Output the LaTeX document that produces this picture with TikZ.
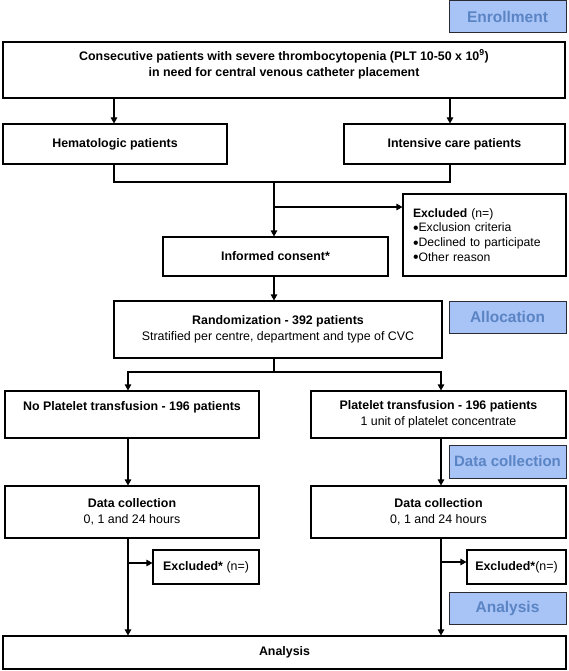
\documentclass[tikz,border=0pt]{standalone}
\usepackage{fontspec}
\setmainfont{Liberation Sans}
\usetikzlibrary{arrows.meta}
\definecolor{lblfill}{HTML}{A8C3F6}
\definecolor{lbltext}{HTML}{5A84C4}
\definecolor{lbldraw}{HTML}{2A2A35}
\newcommand{\bul}{\smash{\raisebox{-1.4pt}{\scalebox{1.3}{\textbullet}}}}
\begin{document}
\begin{tikzpicture}[x=1pt,y=-1pt,
  every path/.style={line width=1.1pt},
  box/.style={draw=black,line width=1.1pt,fill=white,inner sep=0pt,align=center,
     font=\fontsize{12.4}{16.5}\selectfont},
  lbl/.style={draw=lbldraw,line width=1pt,fill=lblfill,inner sep=0pt,
     text=lbltext,font=\fontsize{15.5}{18}\selectfont\bfseries,
     minimum width=117pt,minimum height=32pt},
  arr/.style={-{Triangle[length=6pt,width=6.5pt]}}]
\useasboundingbox (0,0) rectangle (568,671);

% phase labels
\node[lbl] (enr) at (507.5,17) {Enrollment};
\node[lbl] (alloc) at (507.5,317) {Allocation};
\node[lbl,minimum height=33pt,font=\fontsize{15}{18}\selectfont\bfseries] (dclab) at (507.5,461.5) {Data collection};
\node[lbl] (anlab) at (507.5,608) {Analysis};

% boxes
\node[box,minimum width=562pt,minimum height=56pt] (top) at (284,70)
  {\textbf{Consecutive patients with severe thrombocytopenia (PLT 10-50 x 10\textsuperscript{9})}\\
   \textbf{in need for central venous catheter placement}\\[-3pt]\mbox{}};
\node[box,minimum width=224pt,minimum height=40pt] (hem) at (115,144) {\textbf{Hematologic patients}};
\node[box,minimum width=221pt,minimum height=40pt] (icu) at (454.5,144) {\textbf{Intensive care patients}};
\node[box,minimum width=163pt,minimum height=82pt,align=left,text width=143pt,inner xsep=10pt,
   font=\fontsize{12.2}{14.8}\selectfont] (excl) at (484.5,235)
  {\textbf{Excluded} (n=)\\ \bul Exclusion criteria\\ \bul Declined to participate\\ \bul Other reason};
\node[box,minimum width=225pt,minimum height=39pt] (ic) at (275.5,256.5) {\textbf{Informed consent*}};
\node[box,minimum width=328pt,minimum height=57pt] (rand) at (278,329.5)
  {\textbf{Randomization - 392 patients}\\ Stratified per centre, department and type of CVC};
\node[box,minimum width=254pt,minimum height=47pt] (nop) at (132,414.5)
  {\textbf{No Platelet transfusion - 196 patients}\\ \mbox{}};
\node[box,minimum width=255pt,minimum height=47pt] (plt) at (438.5,414.5)
  {\textbf{Platelet transfusion - 196 patients}\\ 1 unit of platelet concentrate};
\node[box,minimum width=254pt,minimum height=52pt] (dcl) at (132,512)
  {\textbf{Data collection}\\ 0, 1 and 24 hours};
\node[box,minimum width=255pt,minimum height=52pt] (dcr) at (438.5,512)
  {\textbf{Data collection}\\ 0, 1 and 24 hours};
\node[box,minimum width=106pt,minimum height=34pt] (exl) at (206,567) {\textbf{Excluded*} (n=)};
\node[box,minimum width=99pt,minimum height=34pt] (exr) at (516.5,567) {\textbf{Excluded*}(n=)};
\node[box,minimum width=563pt,minimum height=33pt] (ana) at (284.5,652.5) {\textbf{Analysis}};

% helper coordinates
\coordinate (xA) at (114,0);
\coordinate (xB) at (450,0);
\coordinate (mrg) at (274,182);
\coordinate (brA) at (274,207);
\coordinate (sp) at (274,372);
\coordinate (xl) at (128,0);
\coordinate (xr) at (441,0);
\coordinate (jl) at (128,563);
\coordinate (jr) at (441,562);

% connectors
\draw[arr] (top.south -| xA) -- (hem.north -| xA);
\draw[arr] (top.south -| xB) -- (icu.north -| xB);
\draw (hem.south -| xA) -- (xA |- mrg) -- (xB |- mrg) -- (icu.south -| xB);
\draw[arr] (mrg) -- (ic.north -| mrg);
\draw[arr] (brA) -- (excl.west |- brA);
\draw[arr] (ic.south -| mrg) -- (rand.north -| mrg);
\draw (rand.south -| sp) -- (sp);
\draw[arr] (sp) -| (nop.north -| xl);
\draw[arr] (sp) -| (plt.north -| xr);
\draw[arr] (nop.south -| xl) -- (dcl.north -| xl);
\draw[arr] (plt.south -| xr) -- (dcr.north -| xr);
\draw[arr] (dcl.south -| xl) -- (ana.north -| xl);
\draw[arr] (dcr.south -| xr) -- (ana.north -| xr);
\draw[arr] (jl) -- (exl.west |- jl);
\draw[arr] (jr) -- (exr.west |- jr);
\end{tikzpicture}
\end{document}
